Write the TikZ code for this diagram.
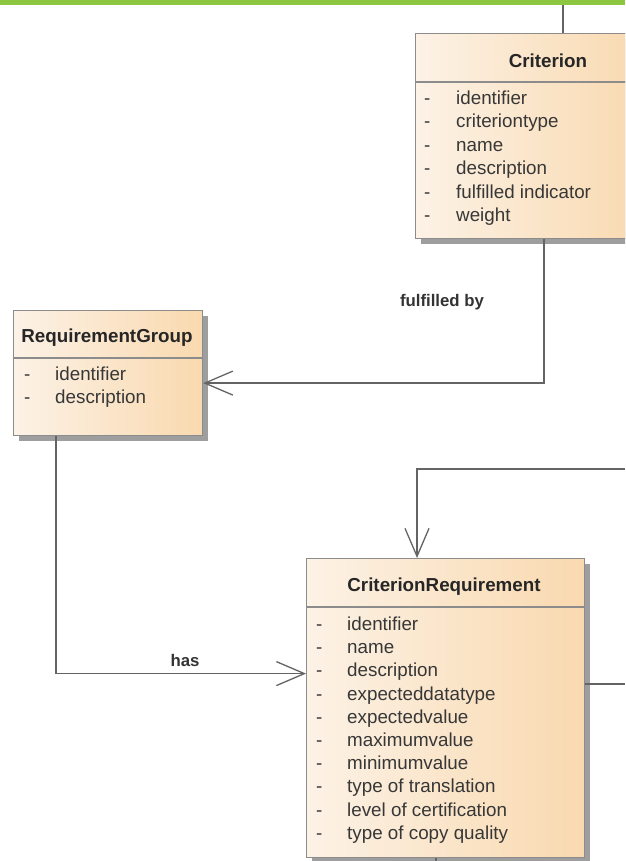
\documentclass[tikz,border=0pt]{standalone}
\usepackage{fontspec}
\setmainfont{Liberation Sans}
\usetikzlibrary{arrows.meta,shadows}
\definecolor{barGreen}{RGB}{141,198,63}
\definecolor{boxLeft}{RGB}{252,242,230}
\definecolor{boxRight}{RGB}{249,217,175}
\definecolor{lineGray}{RGB}{100,100,100}
\definecolor{textGray}{RGB}{55,55,55}
\tikzset{
    classbox/.style ={
        rectangle,              % class frame
        anchor = north west,
        inner sep = 0pt,
        draw = black!45,        % frame colour
        line width = 1.2pt,
        left color = boxLeft,   % beige to orange
        right color = boxRight,
        drop shadow = {shadow xshift=5pt, shadow yshift=-5pt, fill=black!38, opacity=1}
    },
    classname/.style ={
        font = \fontsize{18.8}{22}\selectfont\bfseries,
        text = black!85
    },
    attr/.style ={
        anchor = west,
        inner sep = 0pt,
        text height = 13pt,
        text depth = 4pt,
        font = \fontsize{18.8}{22}\selectfont,
        text = textGray
    },
    edgelabel/.style ={
        font = \fontsize{16.8}{20}\selectfont\bfseries,
        text = black!80
    },
    uml/.style ={
        draw = lineGray,
        line width = 1.3pt,
        -{Straight Barb[length=28pt,width=24pt]}
    }
}

\begin{document}
\begin{tikzpicture}[x=1pt,y=-1pt]
    \useasboundingbox (0,0) rectangle (625,861);
    \clip (0,0) rectangle (625,861);
    \fill[barGreen] (0,0) rectangle (625,5.5);

    % classes
    \node[classbox, minimum width=232pt, minimum height=205pt] (crit) at (415,33) {};
    \node[classbox, minimum width=189pt, minimum height=125pt] (rg) at (13,310) {};
    \node[classbox, minimum width=278pt, minimum height=299pt] (cr) at (306,558) {};

    \draw[black!45, line width=1.2pt] ([yshift=-49pt]crit.north west) -- ([yshift=-49pt]crit.north east);
    \draw[black!45, line width=1.2pt] ([yshift=-48pt]rg.north west) -- ([yshift=-48pt]rg.north east);
    \draw[black!45, line width=1.2pt] ([yshift=-49pt]cr.north west) -- ([yshift=-49pt]cr.north east);

    \node[classname] at (548,61) {Criterion};
    \node[classname] at (107,338) {RequirementGroup};
    \node[classname] at (444,587) {CriterionRequirement};

    \foreach \a [count=\i from 0] in {identifier,criteriontype,name,description,fulfilled indicator,weight}{
        \node[attr] at (424,100+23.4*\i) {-};
        \node[attr] at (456,100+23.4*\i) {\a};
    }
    \foreach \a [count=\i from 0] in {identifier,description}{
        \node[attr] at (24,376+23*\i) {-};
        \node[attr] at (55,376+23*\i) {\a};
    }
    \foreach \a [count=\i from 0] in {identifier,name,description,expecteddatatype,expectedvalue,
        maximumvalue,minimumvalue,type of translation,level of certification,type of copy quality}{
        \node[attr] at (316,626+23.2*\i) {-};
        \node[attr] at (347,626+23.2*\i) {\a};
    }

    % connectors
    \coordinate (ctop) at (563,5);
    \coordinate (fb) at (544,0);
    \coordinate (hs) at (56,0);
    \coordinate (loop) at (625,469);
    \coordinate (lpx) at (417,0);
    \coordinate (cout) at (625,684);
    \coordinate (cbot) at (436,861);

    \draw[lineGray, line width=1.3pt] (ctop) -- (ctop |- crit.north);
    \draw[uml] (crit.south -| fb) |- ([yshift=-10pt]rg.east);
    \draw[uml] (rg.south -| hs) |- ([yshift=34.5pt]cr.west);
    \draw[uml] (loop) -| (cr.north -| lpx);
    \draw[lineGray, line width=1.3pt] (cr.east |- cout) -- (cout);
    \draw[lineGray, line width=1.3pt] (cr.south -| cbot) -- (cbot);

    \node[edgelabel] at (442,302) {fulfilled by};
    \node[edgelabel] at (185,660) {has};
\end{tikzpicture}
\end{document}
